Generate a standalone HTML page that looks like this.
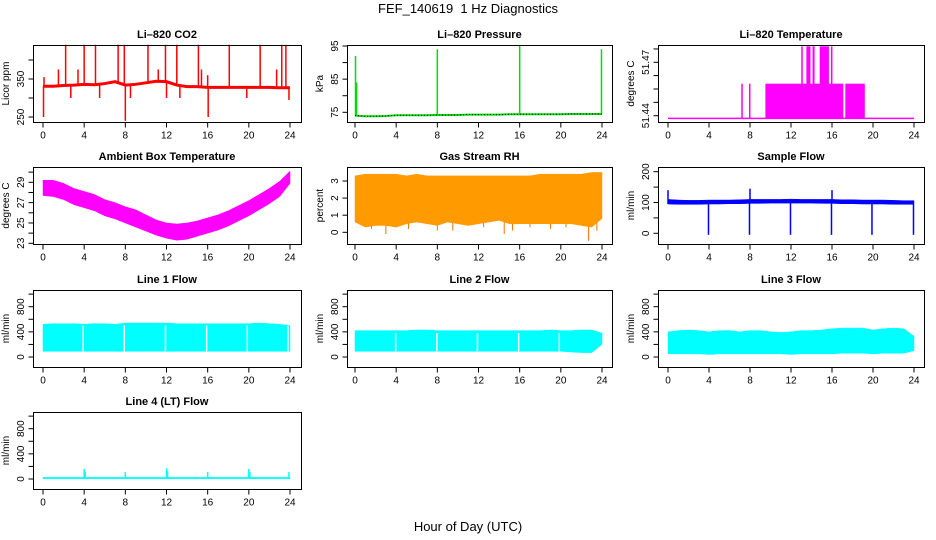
<!DOCTYPE html>
<html><head><meta charset="utf-8">
<style>
html,body{margin:0;padding:0;background:#fff;}
svg{display:block;font-family:"Liberation Sans",Arial,sans-serif;}
</style></head>
<body>
<svg id="chart" width="936" height="540" viewBox="0 0 936 540">
<text x="468" y="13" text-anchor="middle" font-size="13">FEF_140619&#160; 1 Hz Diagnostics</text>
<text x="468" y="531" text-anchor="middle" font-size="13">Hour of Day (UTC)</text>
</svg>
<script>
// ---- data ----
const hours = [0,1,2,3,4,5,6,7,8,9,10,11,12,13,14,15,16,17,18,19,20,21,22,23,24];
const xTicks = [0,4,8,12,16,20,24];
// CO2
const co2Base = [331,331,333,334,336,335,338,343,334,336,340,344,343,334,330,330,328,328,328,328,328,328,328,327,327];
const co2SpikeT = [0.05,0.1,1.5,2.2,2.7,3.4,4.0,5.1,5.5,7.3,7.9,8.0,8.5,10.2,11.2,11.9,12.0,13.0,13.3,15.1,15.4,16.0,16.05,18.1,19.8,21.1,22.7,23.2,23.6,23.9];
const co2SpikeV = [250,355,375,440,300,375,440,440,300,440,440,240,300,440,375,440,300,440,300,440,375,360,250,440,300,440,375,440,440,295];
// Pressure
const presBase = [74,73.8,73.8,73.9,74.1,74.1,74.1,74.1,74.2,74.2,74.2,74.3,74.3,74.3,74.3,74.4,74.4,74.4,74.4,74.4,74.4,74.5,74.5,74.5,74.5];
const presSpikeT = [0.05,0.15,8.0,16.0,23.95];
const presSpikeV = [92,84,94,95,94];
// Li-820 temperature
const ltBase = 51.4385;
const ltMidLevel = 51.458;
const ltTopLevel = 51.479;
const ltMidStart = [7.15,7.9,9.5,17.3];
const ltMidEnd = [7.2,8.0,17.1,19.2];
const ltTopStart = [13.0,13.5,14.1,14.8,15.9];
const ltTopEnd = [13.1,13.9,14.3,15.7,16.0];
// Ambient box temperature
const ambHi = [29.2,29.2,28.9,28.4,28.1,27.8,27.3,27.0,26.6,26.3,25.8,25.3,25.0,24.9,25.0,25.2,25.5,25.8,26.2,26.7,27.2,27.8,28.4,29.1,30.1];
const ambLo = [27.7,27.6,27.3,26.8,26.5,26.2,25.7,25.4,25.0,24.6,24.2,23.8,23.5,23.3,23.4,23.7,24.0,24.3,24.7,25.2,25.7,26.3,26.9,27.6,28.9];
// Gas stream RH
const rhHi = [3.3,3.4,3.4,3.4,3.4,3.3,3.4,3.3,3.3,3.3,3.3,3.3,3.3,3.3,3.3,3.3,3.3,3.3,3.4,3.4,3.4,3.4,3.4,3.5,3.5];
const rhLo = [0.6,0.3,0.4,0.4,0.3,0.5,0.6,0.5,0.4,0.6,0.5,0.4,0.5,0.6,0.7,0.5,0.5,0.5,0.5,0.5,0.5,0.5,0.4,0.3,0.8];
const rhDipT = [1.6,3.0,5.2,8.0,9.5,12.5,14.5,15.3,17.0,19.0,20.5,22.7,23.5];
const rhDipV = [0.2,-0.1,0.2,0.1,0.1,0.3,-0.1,0.1,0.3,0.2,0.3,-0.5,0.1];
// Sample flow
const sfHi = [110,108,107,107,108,108,108,109,110,110,110,110,111,110,110,110,110,109,109,108,108,108,107,106,106];
const sfLo = [95,94,94,94,95,95,96,96,97,97,98,98,98,98,98,97,97,96,96,95,95,95,94,94,94];
const sfSpikeT = [0.0,3.95,7.95,8.0,11.95,15.95,16.0,19.9,23.95];
const sfSpikeV = [140,-5,-5,145,-5,-5,140,-5,-5];
// Line flows
const l1Hi = [520,530,530,530,520,530,530,520,540,540,540,540,540,530,530,530,530,530,530,530,530,540,530,520,500];
const l1Lo = [90,90,90,90,90,90,90,90,90,90,90,90,90,90,90,90,90,90,90,90,90,90,90,90,90];
const l1Gap = [3.9,7.9,11.9,15.9,19.85,23.8];
const l2Hi = [420,420,420,420,420,420,430,430,420,420,420,420,420,420,420,420,420,420,420,430,420,420,430,430,380];
const l2Lo = [90,90,90,90,90,90,90,90,90,90,90,90,90,90,90,90,90,90,90,90,90,80,70,70,200];
const l2Gap = [3.95,7.95,11.9,15.9,19.85];
const l3Hi = [400,420,430,420,400,420,420,400,420,420,400,390,400,420,420,430,450,460,460,460,430,450,460,450,330];
const l3Lo = [50,50,50,50,40,50,50,50,50,50,50,50,40,50,50,50,50,60,60,60,50,60,60,60,100];
const l3Gap = [];
const l4Hi = [25,25,25,25,25,25,25,25,25,25,25,25,25,25,25,25,25,25,25,25,25,25,25,25,25];
const l4Lo = [5,5,5,5,5,5,5,5,5,5,5,5,5,5,5,5,5,5,5,5,5,5,5,5,5];
const l4SpikeT = [4.0,4.1,8.0,12.0,12.1,16.0,20.0,20.1,23.9];
const l4SpikeV = [160,110,110,170,130,110,160,110,110];
// axis ticks
const co2Ticks = [250,300,350,400], co2Labels = [250,350];
const presTicks = [75,80,85,90,95], presLabels = [75,85,95];
const ltTicks = [51.44,51.4475,51.455,51.4625,51.47,51.4775], ltLabels = [51.44,51.47];
const ambTicks = [23,24,25,26,27,28,29,30], ambLabels = [23,25,27,29];
const rhTicks = [0,1,2,3], rhLabels = [0,1,2,3];
const sfTicks = [0,50,100,150,200], sfLabels = [0,100,200];
const lfTicks = [0,200,400,600,800,1000], lfLabels = [0,400,800];

// ---- layout ----
const svg = document.getElementById('chart');
const NS = 'http://www.w3.org/2000/svg';
const cols = [{l:33,r:301,x0:43,x24:290},{l:347,r:612,x0:355,x24:602},{l:658,r:924,x0:668,x24:914}];
const rowTop = [45,167,290,412];
const BH = 77;
function el(tag, attrs, parent){const e=document.createElementNS(NS,tag);for(const k in attrs)e.setAttribute(k,attrs[k]);(parent||svg).appendChild(e);return e;}
function fmt(v){return String(v);}

function makePanel(name, title, ylab, c, r, vA, pA, vB, pB, yt, yl){
  const C = cols[c], top = rowTop[r];
  const g = el('g',{});
  
  
  const sx = h => C.x0 + (C.x24 - C.x0) * h / 24;
  const sy = v => top + pA + (v - vA) * (pB - pA) / (vB - vA);
  const t = el('text',{x:(C.l+C.r)/2,y:top-7,'text-anchor':'middle','font-size':'11','font-weight':'bold'},g);
  t.textContent = title;
  
  
  const data = el('g',{},g);
  
  
  const ax = el('g',{stroke:'#000','stroke-width':'1',fill:'none'},g);
  
  
  el('rect',{x:C.l+0.5,y:top+0.5,width:C.r-C.l,height:BH},ax);
  const yb = top+BH+0.5;
  el('line',{x1:sx(0),x2:sx(24),y1:yb,y2:yb},ax);
  xTicks.forEach(h=>{
    el('line',{x1:sx(h),x2:sx(h),y1:yb,y2:yb+5},ax);
    const tx = el('text',{x:sx(h),y:yb+16,'text-anchor':'middle','font-size':'10',fill:'#000',stroke:'none'},g);
    tx.textContent = h;
    
    
  });
  const xl = C.l+0.5;
  el('line',{x1:xl,x2:xl,y1:sy(yt[0]),y2:sy(yt[yt.length-1])},ax);
  yt.forEach(v=>{ el('line',{x1:xl-5,x2:xl,y1:sy(v),y2:sy(v)},ax); });
  yl.forEach(v=>{
    const y = sy(v), x = C.l-9;
    const tx = el('text',{x:x,y:y,'text-anchor':'middle','font-size':'10',transform:`rotate(-90 ${x} ${y})`},g);
    tx.textContent = fmt(v);
    
    
  });
  const lx = C.l-24, ly = top+BH/2;
  const yl2 = el('text',{x:lx,y:ly,'text-anchor':'middle','font-size':'10',transform:`rotate(-90 ${lx} ${ly})`},g);
  yl2.textContent = ylab;
  
  
  return {data, sx, sy};
}
function band(p, hi, lo, fill){
  let d = 'M'+hours.map((h,i)=>p.sx(h)+','+p.sy(hi[i])).join('L');
  d += 'L'+hours.slice().reverse().map((h,j)=>{const i=hours.length-1-j;return p.sx(h)+','+p.sy(lo[i]);}).join('L')+'Z';
  const e = el('path',{d:d,fill:fill,stroke:fill,'stroke-width':'0.5'},p.data);
  
  
}
function spikes(p, ts, vs, baseFn, color, w){
  ts.forEach((t,i)=>{
    const e = el('line',{x1:p.sx(t),x2:p.sx(t),y1:p.sy(baseFn(t)),y2:p.sy(vs[i]),stroke:color,'stroke-width':w||1.5},p.data);
    
    
  });
}
function interp(arr){return t=>{const i=Math.min(23,Math.floor(t));const f=t-i;return arr[i]*(1-f)+arr[i+1]*f;};}
function gaps(p, ts, top, bottom){
  ts.forEach(t=>{
    const e = el('line',{x1:p.sx(t),x2:p.sx(t),y1:p.sy(top),y2:p.sy(bottom),stroke:'#fff','stroke-width':1.5},p.data);
    
    
  });
}

// CO2
let p = makePanel('co2-panel','Li–820 CO2','Licor ppm',0,0,250,72,350,34,co2Ticks,co2Labels);
spikes(p, co2SpikeT, co2SpikeV, interp(co2Base), '#ff0000', 1.5);
let pl = el('polyline',{points:hours.map((h,i)=>p.sx(h)+','+p.sy(co2Base[i])).join(' '),fill:'none',stroke:'#ff0000','stroke-width':'3'},p.data);



// Pressure
p = makePanel('pressure-panel','Li–820 Pressure','kPa',1,0,95,1,75,67.3,presTicks,presLabels);
pl = el('polyline',{points:hours.map((h,i)=>p.sx(h)+','+p.sy(presBase[i])).join(' '),fill:'none',stroke:'#00dd00','stroke-width':'2'},p.data);


spikes(p, presSpikeT, presSpikeV, interp(presBase), '#00dd00', 1.5);
pl = el('polyline',{points:hours.map((h,i)=>p.sx(h)+','+p.sy(presBase[i])).join(' '),fill:'none',stroke:'#000','stroke-width':'1','stroke-dasharray':'1 2'},p.data);



// Li temp
p = makePanel('li820-temp-panel','Li–820 Temperature','degrees C',2,0,51.44,70.7,51.47,17.3,ltTicks,ltLabels);
pl = el('line',{x1:p.sx(0),x2:p.sx(24),y1:p.sy(ltBase),y2:p.sy(ltBase),stroke:'#ff00ff','stroke-width':'1.5'},p.data);


function blocks(starts, ends, level, color){
  starts.forEach((s,i)=>{
    const x1=p.sx(s), x2=Math.max(p.sx(ends[i]), x1+1.5);
    const e = el('rect',{x:x1,y:p.sy(level),width:x2-x1,height:p.sy(ltBase)-p.sy(level),fill:color},p.data);
    
    
  });
}
blocks(ltMidStart, ltMidEnd, ltMidLevel, '#ff00ff');
blocks(ltTopStart, ltTopEnd, ltTopLevel, '#ff00ff');

// Ambient
p = makePanel('ambient-temp-panel','Ambient Box Temperature','degrees C',0,1,29,15.3,23,76.3,ambTicks,ambLabels);
band(p, ambHi, ambLo, '#ff00ff');

// RH
p = makePanel('gas-rh-panel','Gas Stream RH','percent',1,1,3,14,0,65.3,rhTicks,rhLabels);
band(p, rhHi, rhLo, '#ff9a00');
spikes(p, rhDipT, rhDipV, interp(rhLo), '#ff7000', 1);

// Sample flow
p = makePanel('sample-flow-panel','Sample Flow','ml/min',2,1,0,66.3,200,4.7,sfTicks,sfLabels);
band(p, sfHi, sfLo, '#0000ff');
spikes(p, sfSpikeT, sfSpikeV, interp(sfLo), '#0000ff', 1.5);

// Lines
p = makePanel('line1-flow-panel','Line 1 Flow','ml/min',0,2,0,67,800,16.7,lfTicks,lfLabels);
band(p, l1Hi, l1Lo, '#00ffff'); gaps(p, l1Gap, 500, 90);
p = makePanel('line2-flow-panel','Line 2 Flow','ml/min',1,2,0,67,800,16.7,lfTicks,lfLabels);
band(p, l2Hi, l2Lo, '#00ffff'); gaps(p, l2Gap, 380, 90);
p = makePanel('line3-flow-panel','Line 3 Flow','ml/min',2,2,0,67,800,16.7,lfTicks,lfLabels);
band(p, l3Hi, l3Lo, '#00ffff'); gaps(p, l3Gap, 380, 60);
p = makePanel('line4-flow-panel','Line 4 (LT) Flow','ml/min',0,3,0,67,800,16.7,lfTicks,lfLabels);
band(p, l4Hi, l4Lo, '#00ffff');
spikes(p, l4SpikeT, l4SpikeV, interp(l4Hi), '#00ffff', 1.5);
</script>
</body></html>
